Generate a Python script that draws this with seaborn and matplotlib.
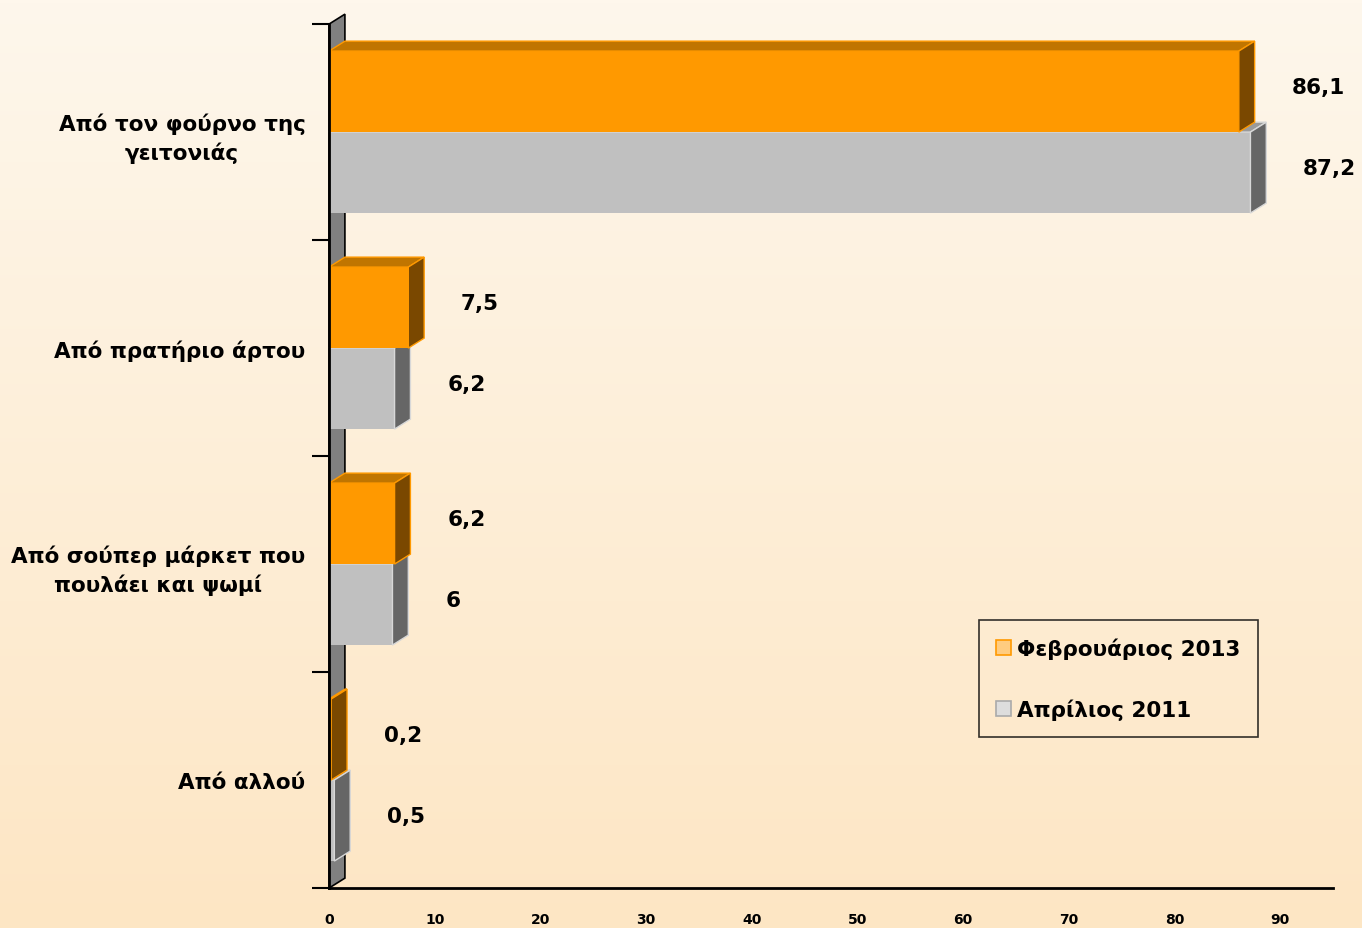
import matplotlib
matplotlib.use('Agg')
import matplotlib.pyplot as plt
import numpy as np
import pandas as pd
import seaborn as sns
from matplotlib.patches import Polygon, Patch

# --------------------------------------------------------------------
# data

categories = ['Από τον φούρνο της\nγειτονιάς', 'Από πρατήριο άρτου',
              'Από σούπερ μάρκετ που\nπουλάει και ψωμί', 'Από αλλού']
feb_2013 = [86.1, 7.5, 6.2, 0.2]
apr_2011 = [87.2, 6.2, 6.0, 0.5]
series = ['Φεβρουάριος 2013', 'Απρίλιος 2011']
x_ticks = [0, 10, 20, 30, 40, 50, 60, 70, 80, 90]

df = pd.DataFrame({
    'category': categories * 2,
    'series': [series[0]] * len(categories) + [series[1]] * len(categories),
    'value': feb_2013 + apr_2011,
})

# colours: front, top, side, edge
faces = {
    series[0]: ('#FF9900', '#C07500', '#7A4800', '#FF9900'),
    series[1]: ('#C0C0C0', '#9A9A9A', '#666666', '#D8D8D8'),
}

sns.set_style('white')
plt.rcParams['font.family'] = ['DejaVu Sans']
plt.rcParams['text.color'] = 'black'
plt.rcParams['xtick.color'] = 'black'
plt.rcParams['ytick.color'] = 'black'

fig = plt.figure(figsize=(13.62, 9.29), dpi=100)

# background gradient
bg = fig.add_axes([0, 0, 1, 1], zorder=-10)
top = np.array([254, 247, 236]) / 255
bottom = np.array([253, 230, 196]) / 255
t = np.linspace(0, 1, 256)[:, None]
grad = top[None, :] * (1 - t) + bottom[None, :] * t
bg.imshow(grad[:, None, :], aspect='auto', extent=[0, 1, 0, 1])
bg.axis('off')

ax = fig.add_axes([0.2416, 0.043, 0.737, 0.930])
ax.patch.set_alpha(0)

sns.barplot(data=df, y='category', x='value', hue='series', hue_order=series,
            order=categories, orient='h', width=0.75, saturation=1,
            palette={s: faces[s][0] for s in series}, legend=False, ax=ax)

ax.set_xlim(0, 95)
ax.set_ylim(len(categories) - 0.5, -0.5)

dx, dy = 1.5, 0.046

# wall
wall = Polygon([(0, len(categories) - 0.5), (dx, len(categories) - 0.5 - dy),
                (dx, -0.5 - dy), (0, -0.5)], closed=True,
               facecolor='#808080', edgecolor='black', lw=1.2, zorder=1, clip_on=False)
ax.add_patch(wall)

# 3D faces on bars, grey drawn behind orange
for k, (container, s) in enumerate(zip(ax.containers, series)):
    front, topc, side, edge = faces[s]
    z = 3 - k
    for bar in container:
        x0, w, y0, h = bar.get_x(), bar.get_width(), bar.get_y(), bar.get_height()
        bar.set_zorder(z)
        bar.set_edgecolor('none')
        ax.add_patch(Polygon([(x0, y0), (x0 + w, y0), (x0 + w + dx, y0 - dy), (x0 + dx, y0 - dy)],
                             facecolor=topc, edgecolor=edge, lw=1, zorder=z + 0.1, clip_on=False))
        ax.add_patch(Polygon([(x0 + w, y0), (x0 + w + dx, y0 - dy), (x0 + w + dx, y0 + h - dy), (x0 + w, y0 + h)],
                             facecolor=side, edgecolor=edge, lw=1, zorder=z + 0.1, clip_on=False))
        txt = f"{w:g}".replace('.', ',')
        ax.annotate(txt, (x0 + w, y0 + h / 2 - dy / 2), xytext=(38, 0), textcoords='offset points',
                    ha='left', va='center', fontsize=15.5, fontweight='bold', color='black')

# axes styling
for sp in ['top', 'right']:
    ax.spines[sp].set_visible(False)
for sp in ['left', 'bottom']:
    ax.spines[sp].set_color('black')
    ax.spines[sp].set_linewidth(2)
    ax.spines[sp].set_zorder(5)

ax.set_xticks(x_ticks)
ax.set_xticklabels([str(v) for v in x_ticks], fontsize=10, fontweight='bold')
ax.tick_params(axis='x', length=9, width=1.5, color='black', direction='out', pad=8)

ax.set_yticks(np.arange(len(categories) + 1) - 0.5, minor=True)
ax.tick_params(axis='y', which='minor', length=12, width=1.5, color='black', direction='out', left=True)
ax.tick_params(axis='y', which='major', length=0, pad=17)
ax.set_yticklabels(categories, fontsize=15.5, fontweight='bold')
for lab in ax.get_yticklabels():
    lab.set_multialignment('center')
    lab.set_linespacing(1.45)

ax.set_xlabel('')
ax.set_ylabel('')

handles = [Patch(facecolor='#FFCC80', edgecolor='#FF9900', lw=1.2),
           Patch(facecolor='#DDDDDD', edgecolor='#AAAAAA', lw=1.2)]
leg = ax.legend(handles, series, loc='upper left', bbox_to_anchor=(0.647, 0.310),
                frameon=True, fancybox=False, edgecolor='black',
                handlelength=0.7, handleheight=0.7, handletextpad=0.3,
                labelspacing=1.85, borderpad=0.8, borderaxespad=0,
                prop={'size': 15.5, 'weight': 'bold'})
frame = leg.get_frame()
frame.set_facecolor('none')
frame.set_edgecolor('black')
frame.set_linewidth(1.2)

fig.savefig('out.png', dpi=100)
